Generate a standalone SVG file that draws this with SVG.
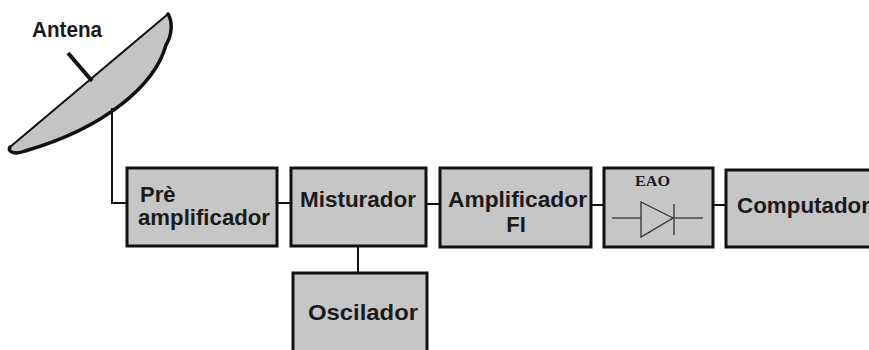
<svg xmlns="http://www.w3.org/2000/svg" width="869" height="350" viewBox="0 0 869 350">
  <style>
    .box { fill: #c6c6c6; stroke: #111; stroke-width: 3; }
    .lbl { font-family: "Liberation Sans", Arial, sans-serif; font-weight: bold; font-size: 22px; fill: #1a1a1a; }
    .wire { fill: none; stroke: #111; stroke-width: 2; }
    .thin { fill: none; stroke: #333; stroke-width: 1.3; }
  </style>
  <rect width="869" height="350" fill="#ffffff"/>

  <!-- dish antenna -->
  <g id="antena">
    <path d="M 10 147 L 168 14 C 173 22, 172 35, 166 45 C 155 85, 105 128, 25 151 C 15 155, 7 152, 10 147 Z" fill="#c4c4c4" stroke="#111" stroke-width="2"/>
    <path d="M 168 14 C 173 22, 172 35, 166 45 C 155 85, 105 128, 25 151 C 15 155, 7 152, 10 147" fill="none" stroke="#111" stroke-width="3.5" stroke-linecap="round"/>
    <line x1="68" y1="53" x2="92" y2="81" stroke="#111" stroke-width="4"/>
    <text class="lbl" x="32" y="37" textLength="70" lengthAdjust="spacingAndGlyphs">Antena</text>
  </g>

  <!-- connectors -->
  <g id="connectors">
    <path class="wire" d="M 112 108 V 203 H 127"/>
    <line class="wire" x1="277" y1="203" x2="291" y2="203"/>
    <line class="wire" x1="426" y1="204" x2="440" y2="204"/>
    <line class="wire" x1="591" y1="205" x2="604" y2="205"/>
    <line class="wire" x1="713" y1="205" x2="726" y2="205"/>
    <line class="wire" x1="358" y1="246" x2="358" y2="273"/>
  </g>

  <g id="pre-amplificador">
    <rect class="box" x="127" y="168" width="150" height="78"/>
    <text class="lbl" x="140" y="202">Prè</text>
    <text class="lbl" x="138" y="225" textLength="132" lengthAdjust="spacingAndGlyphs">amplificador</text>
  </g>

  <g id="misturador">
    <rect class="box" x="291" y="168" width="135" height="78"/>
    <text class="lbl" x="300" y="207" textLength="116" lengthAdjust="spacingAndGlyphs">Misturador</text>
  </g>

  <g id="amplificador-fi">
    <rect class="box" x="440" y="168" width="151" height="79"/>
    <text class="lbl" x="448" y="207" textLength="139" lengthAdjust="spacingAndGlyphs">Amplificador</text>
    <text class="lbl" x="516" y="232" text-anchor="middle">FI</text>
  </g>

  <g id="eao">
    <rect class="box" x="604" y="168" width="109" height="79"/>
    <text x="635" y="186" font-family="'Liberation Serif', 'Times New Roman', serif" font-weight="bold" font-size="14" fill="#1a1a1a" textLength="35" lengthAdjust="spacingAndGlyphs">EAO</text>
    <line class="thin" x1="612" y1="218" x2="641" y2="218"/>
    <line class="thin" x1="674" y1="218" x2="703" y2="218"/>
    <path class="thin" d="M 641 202 L 673 218 L 641 237 Z"/>
    <line class="thin" x1="674" y1="204" x2="674" y2="235" stroke-width="1.6"/>
  </g>

  <g id="computador">
    <rect class="box" x="726" y="170" width="150" height="77"/>
    <text class="lbl" x="737" y="213" textLength="133" lengthAdjust="spacingAndGlyphs">Computador</text>
  </g>

  <g id="oscilador">
    <rect class="box" x="293" y="273" width="134" height="90"/>
    <text class="lbl" x="308" y="320" textLength="110" lengthAdjust="spacingAndGlyphs">Oscilador</text>
  </g>
</svg>
